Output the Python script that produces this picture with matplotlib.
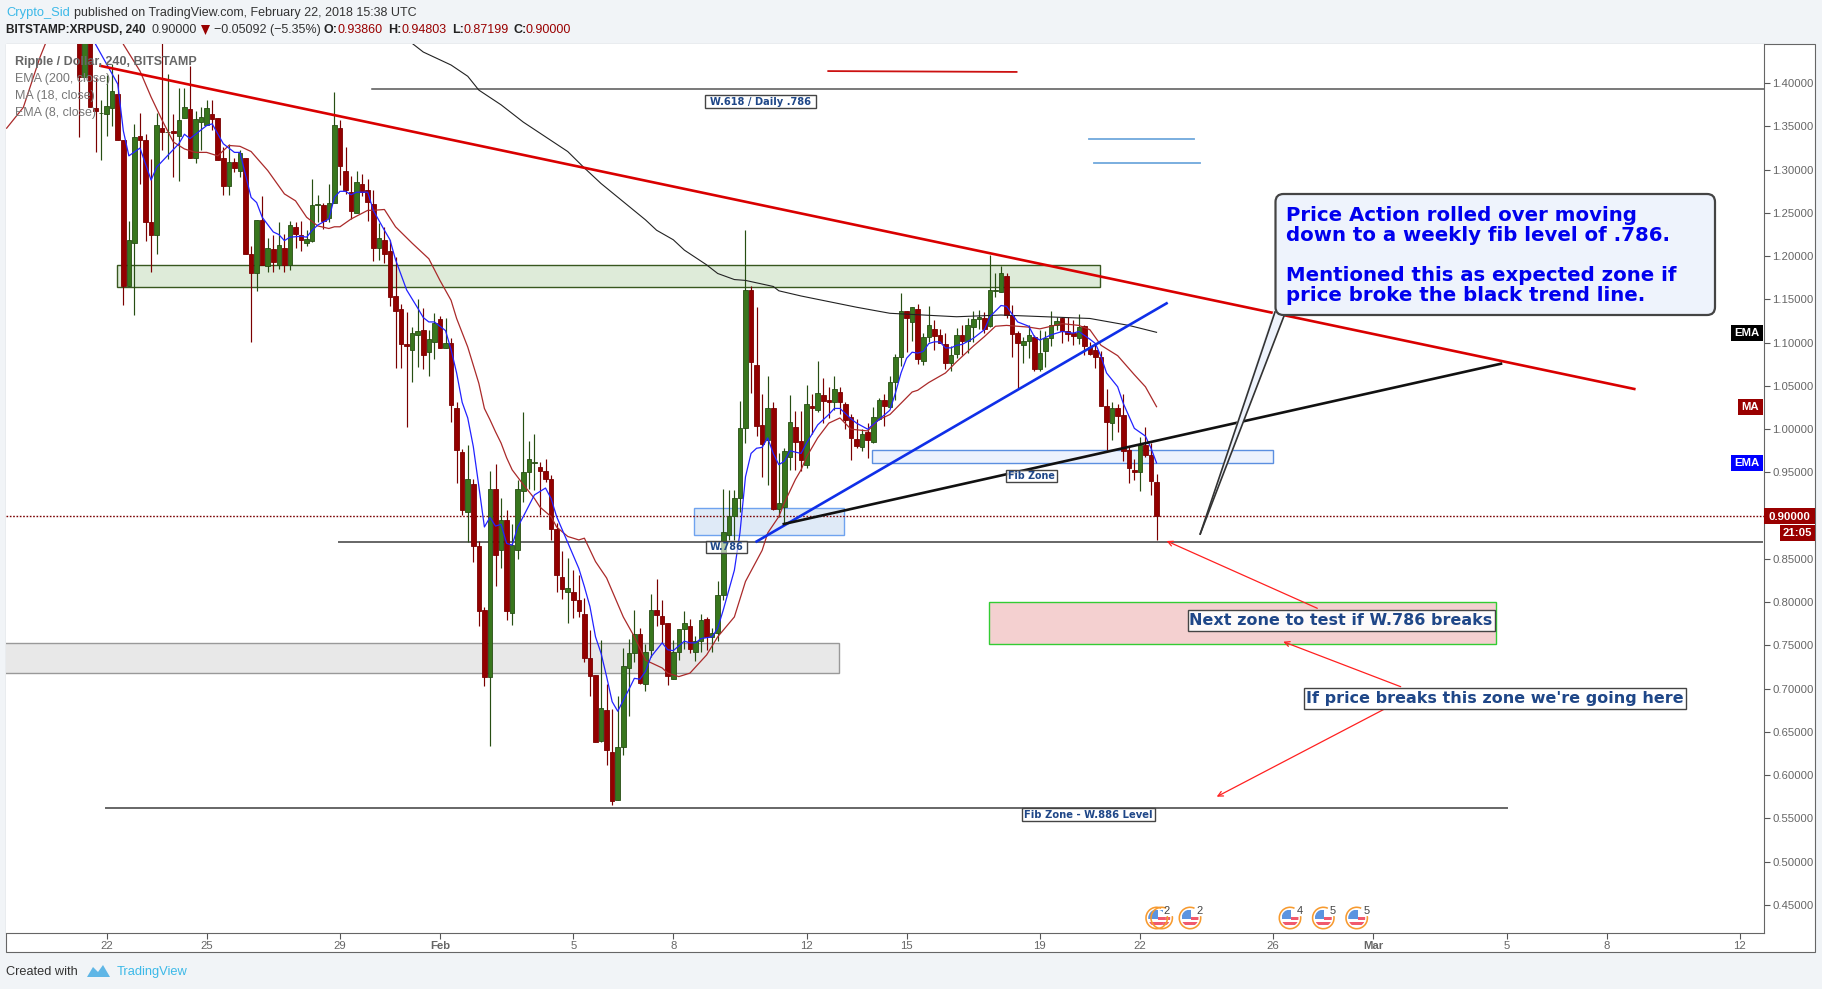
import matplotlib
matplotlib.use("Agg")
import matplotlib.pyplot as plt
from matplotlib.patches import Rectangle, FancyBboxPatch, Polygon, Circle, Wedge
from matplotlib.transforms import IdentityTransform

W = 1822
H = 989

# 4h candles, index 0 is Jan 21 00:00-ish, index 194 is Feb 22 12:00
opens = [1.52,1.407,1.50,1.371,1.365,1.364,1.371,1.388,1.334,1.166,
 1.215,1.339,1.334,1.239,1.225,1.348,1.343,1.345,1.339,1.360,
 1.370,1.313,1.355,1.352,1.364,1.360,1.314,1.281,1.309,1.298,
 1.314,1.202,1.180,1.242,1.189,1.208,1.190,1.210,1.190,1.234,
 1.224,1.215,1.217,1.259,1.259,1.244,1.262,1.348,1.299,1.274,
 1.250,1.284,1.276,1.260,1.210,1.219,1.206,1.154,1.139,1.099,
 1.091,1.109,1.115,1.089,1.101,1.127,1.094,1.100,1.025,.974,
 .904,.937,.865,.791,.713,.931,.860,.895,.787,.860,
 .928,.950,.961,.956,.952,.943,.885,.829,.812,.812,
 .803,.786,.736,.716,.640,.675,.627,.571,.633,.724,
 .741,.763,.706,.745,.791,.784,.776,.711,.742,.769,
 .772,.743,.755,.781,.760,.764,.808,.878,.900,.921,
 1.001,1.161,1.074,1.005,.988,1.024,.908,.910,.968,1.003,
 .986,.959,1.027,1.022,1.039,1.034,1.032,1.043,1.029,1.014,
 .989,.980,.997,.985,1.012,1.034,1.026,1.055,1.083,1.137,
 1.124,1.139,1.079,1.107,1.116,1.109,1.099,1.076,1.087,1.109,
 1.102,1.118,1.127,1.129,1.119,1.160,1.159,1.177,1.132,1.111,
 1.097,1.102,1.107,1.070,1.090,1.106,1.120,1.129,1.114,1.111,
 1.106,1.119,1.095,1.091,1.084,1.027,1.007,1.024,1.016,.976,
 .953,.951,.982,.970,.9386]
highs = [1.56,1.52,1.53,1.407,1.380,1.409,1.422,1.411,1.334,1.241,
 1.353,1.366,1.341,1.312,1.366,1.447,1.411,1.364,1.394,1.394,
 1.420,1.368,1.372,1.381,1.381,1.360,1.326,1.330,1.314,1.323,
 1.314,1.212,1.242,1.270,1.221,1.225,1.240,1.226,1.241,1.239,
 1.241,1.230,1.289,1.271,1.261,1.284,1.390,1.358,1.326,1.293,
 1.299,1.295,1.289,1.276,1.238,1.234,1.219,1.199,1.145,1.136,
 1.118,1.151,1.140,1.115,1.134,1.131,1.129,1.105,1.032,.977,
 .982,.942,.871,.794,.952,.960,.921,.907,.890,.941,
 1.020,.986,.994,.962,.966,.947,.891,.859,.851,.837,
 .832,.805,.768,.716,.756,.706,.676,.691,.747,.758,
 .791,.770,.752,.810,.827,.802,.776,.756,.769,.790,
 .781,.761,.786,.783,.770,.825,.931,.930,.930,1.033,
 1.230,1.166,1.141,1.041,1.062,1.032,.972,.978,1.040,1.021,
 1.021,1.051,1.041,1.079,1.059,1.049,1.062,1.049,1.031,1.017,
 1.012,1.000,1.007,1.026,1.036,1.041,1.061,1.087,1.157,1.137,
 1.141,1.145,1.111,1.142,1.126,1.116,1.111,1.096,1.117,1.120,
 1.128,1.137,1.138,1.136,1.201,1.180,1.189,1.181,1.144,1.114,
 1.107,1.120,1.109,1.115,1.113,1.137,1.130,1.130,1.130,1.126,
 1.133,1.120,1.101,1.099,1.090,1.046,1.031,1.029,1.041,.979,
 .966,.991,1.002,.984,.94803]
lows = [1.338,1.403,1.372,1.320,1.311,1.339,1.351,1.334,1.144,1.166,
 1.132,1.283,1.217,1.182,1.202,1.323,1.312,1.292,1.287,1.360,
 1.313,1.308,1.323,1.352,1.346,1.311,1.271,1.271,1.297,1.292,
 1.202,1.101,1.160,1.190,1.182,1.182,1.185,1.182,1.184,1.209,
 1.206,1.212,1.216,1.239,1.231,1.239,1.262,1.282,1.272,1.243,
 1.250,1.270,1.241,1.194,1.196,1.192,1.142,1.071,1.071,1.002,
 1.055,1.072,1.070,1.062,1.081,1.094,1.094,1.008,.938,.901,
 .870,.846,.772,.703,.634,.819,.840,.780,.774,.850,
 .916,.931,.930,.901,.939,.872,.812,.804,.776,.782,
 .783,.731,.692,.638,.638,.612,.565,.571,.623,.668,
 .731,.705,.697,.737,.772,.753,.704,.711,.733,.746,
 .741,.732,.742,.745,.742,.755,.802,.872,.872,.904,
 .984,1.042,.992,.945,.935,.907,.899,.890,.953,.953,
 .952,.955,.994,1.020,1.007,1.013,1.022,1.017,1.000,.964,
 .978,.975,.967,.984,1.011,1.004,1.026,1.034,1.073,1.089,
 1.102,1.075,1.074,1.101,1.092,1.100,1.070,1.067,1.082,1.086,
 1.088,1.101,1.116,1.111,1.118,1.153,1.159,1.129,1.084,1.046,
 1.076,1.082,1.067,1.067,1.072,1.096,1.115,1.100,1.102,1.097,
 1.099,1.086,1.086,1.071,1.027,.976,.987,.997,.963,.938,
 .941,.929,.968,.924,.87199]
closes = [1.407,1.50,1.373,1.368,1.366,1.374,1.391,1.334,1.166,1.219,
 1.338,1.334,1.239,1.225,1.352,1.343,1.344,1.342,1.358,1.373,
 1.313,1.359,1.361,1.371,1.359,1.311,1.281,1.309,1.302,1.319,
 1.202,1.180,1.242,1.190,1.210,1.193,1.213,1.190,1.236,1.226,
 1.219,1.220,1.259,1.260,1.241,1.262,1.352,1.304,1.276,1.252,
 1.286,1.274,1.263,1.210,1.221,1.203,1.153,1.137,1.098,1.096,
 1.111,1.114,1.086,1.104,1.123,1.094,1.100,1.028,.976,.907,
 .943,.865,.790,.713,.931,.855,.895,.790,.866,.931,
 .951,.965,.962,.952,.943,.885,.831,.815,.816,.803,
 .790,.736,.715,.638,.678,.629,.570,.633,.726,.741,
 .763,.707,.743,.791,.785,.775,.715,.742,.769,.776,
 .746,.755,.779,.760,.764,.808,.881,.900,.921,1.001,
 1.161,1.078,1.004,.983,1.024,.908,.915,.975,1.008,.985,
 .964,1.029,1.025,1.042,1.033,1.032,1.046,1.031,1.011,.990,
 .981,.995,.988,1.014,1.034,1.027,1.055,1.083,1.137,1.129,
 1.141,1.081,1.107,1.120,1.108,1.100,1.076,1.086,1.109,1.102,
 1.120,1.127,1.130,1.116,1.161,1.161,1.181,1.132,1.110,1.100,
 1.102,1.109,1.070,1.088,1.106,1.120,1.125,1.114,1.110,1.108,
 1.118,1.096,1.087,1.084,1.027,1.008,1.025,1.015,.975,.955,
 .951,.982,.970,.940,.9000]

# moving averages at the bars where they bend
ema8_bars = [2,3,7,8,9,11,13,14,18,19,20,23,24,26,28,29,31,32,33,35,36,37,38,40,41,42,43,45,46,47,48,49,50,52,
 53,55,56,57,59,61,62,63,64,66,67,68,69,70,71,72,73,74,75,76,77,78,79,80,82,84,85,86,87,90,91,92,93,94,95,96,97,
 99,100,101,102,103,105,106,107,109,110,111,112,114,115,116,118,119,120,121,122,123,124,125,126,127,128,130,131,
 133,134,135,136,137,139,140,142,144,146,147,148,149,150,151,152,153,154,155,156,157,158,159,161,163,164,166,167,
 169,171,172,173,175,177,179,180,182,183,184,185,187,188,190,192,193,194]
ema8_vals = [1.48,1.445,1.399,1.345,1.316,1.325,1.288,1.303,1.330,1.341,1.336,1.351,1.353,1.330,1.320,1.320,1.268,1.262,1.245,1.228,1.225,1.218,1.222,1.223,1.222,1.230,1.236,1.243,1.268,1.275,1.275,1.271,1.274,1.274,
 1.253,1.230,1.219,1.196,1.161,1.140,1.129,1.124,1.124,1.114,1.092,1.065,1.031,1.013,.980,.934,.887,.898,.888,.890,.868,.866,.887,.899,.924,.932,.920,.899,.884,.839,.818,.795,.760,.741,.714,.685,.674,
 .699,.712,.711,.720,.737,.753,.745,.744,.755,.753,.753,.758,.760,.770,.791,.837,.880,.945,.972,.978,.979,.990,.972,.959,.963,.975,.972,.984,
 1.005,1.011,1.017,1.024,1.024,1.012,1.007,1.000,1.011,1.022,1.042,1.065,1.082,1.089,1.088,1.090,1.099,1.101,1.101,1.094,1.094,1.097,1.098,1.105,1.115,1.130,1.143,1.142,
 1.124,1.119,1.107,1.103,1.109,1.113,1.111,1.113,1.104,1.099,1.084,1.065,1.049,1.030,1.001,.992,.978,.961]

ma18_bars = [-13,-10,-7,-6,-4,6,8,11,13,15,17,19,21,23,25,27,29,31,34,37,39,41,43,45,46,47,49,52,
 53,55,57,60,63,65,67,68,70,72,73,74,75,76,77,78,80,82,83,85,86,88,90,91,93,95,98,100,102,105,106,108,110,113,115,118,120,123,
 124,126,127,129,130,131,133,135,137,139,142,144,146,148,150,151,153,156,158,161,163,165,167,169,171,173,175,177,180,182,184,187,190,192,194]
ma18_vals = [1.348,1.372,1.430,1.446,1.55,1.55,1.445,1.414,1.384,1.357,1.332,1.324,1.320,1.320,1.316,1.328,1.327,1.321,1.299,1.272,1.264,1.245,1.235,1.232,1.234,1.234,1.243,1.253,
 1.253,1.254,1.234,1.215,1.197,1.172,1.149,1.128,1.095,1.053,1.024,1.011,.997,.984,.967,.953,.936,.920,.910,.899,.887,.876,.872,.874,.847,.828,.783,.760,.733,.724,.718,.714,.718,.739,.760,.783,.824,.860,
 .880,.899,.915,.942,.953,.968,.990,1.007,1.013,1.000,.998,1.011,1.017,1.030,1.043,1.045,1.054,1.065,1.078,1.096,1.107,1.119,1.120,1.119,1.118,1.116,1.119,1.122,1.120,1.115,1.097,1.085,1.063,1.049,1.026]

ema200_bars = [58,60,62,67,70,72,76,80,84,88,91,94,98,102,104,107,109,113,115,118,120,125,126,130,140,146,158,166,182,189,194]
ema200_vals = [1.46,1.446,1.436,1.421,1.408,1.392,1.375,1.355,1.338,1.321,1.302,1.284,1.263,1.242,1.230,1.219,1.207,1.190,1.180,1.173,1.172,1.165,1.160,1.154,1.141,1.134,1.130,1.132,1.128,1.120,1.112]

price_ticks = [1.40,1.35,1.30,1.25,1.20,1.15,1.10,1.05,1.00,0.95,0.85,0.80,0.75,0.70,0.65,0.60,0.55,0.50,0.45]
day_offsets = [0,3,7,10,14,17,21,24,28,31,35,38,42,45,49]
day_labels = ["22","25","29","Feb","5","8","12","15","19","22","26","Mar","5","8","12"]
last_price = 0.90

bg = "#f1f4f7"
up_body = "#38761d"
up_edge = "#274e13"
dn_body = "#930000"
dn_edge = "#7a0000"
label_blue = "#1f4788"
sans = "Liberation Sans"

fig = plt.figure(figsize=(W / 100, H / 100), dpi=100, facecolor=bg)
px = IdentityTransform()


def py(y):
    return H - y


def add_px(patch):
    patch.set_transform(px)
    fig.add_artist(patch)
    return patch


def ftext(x, y, s, **kw):
    kw.setdefault("family", sans)
    kw.setdefault("va", "center")
    return fig.text(x / W, 1 - y / H, s, **kw)


def boxed(x0, y0, x1, y1, s, size, alpha=1.0):
    add_px(Rectangle((x0, py(y1)), x1 - x0, y1 - y0, fc=(1, 1, 1, alpha), ec="#444444", lw=1.0, zorder=6))
    ftext((x0 + x1) / 2, (y0 + y1) / 2 + 0.5, s, family="DejaVu Sans", fontweight="bold", fontsize=size,
          color=label_blue, ha="center", zorder=7)


# white chart panel including the price and time scales
add_px(Rectangle((6, py(952)), 1809, 908, fc="white", ec="#666666", lw=0.8, zorder=-1))

ax = fig.add_axes([6 / W, (H - 933) / H, 1758 / W, 889 / H])
ax.set_xlim(-13.12, 303.35)
ax.set_ylim(0.4176, 1.4453)
ax.yaxis.tick_right()
ax.set_yticks(price_ticks)
ax.set_yticklabels(["%.5f" % p for p in price_ticks], family=sans, fontsize=8.2, color="#666666")
ax.set_xticks([5 + 6 * d for d in day_offsets])
ax.set_xticklabels(day_labels, family=sans, fontsize=8.2, color="#666666")
for t in ax.get_xticklabels():
    if t.get_text() in ("Feb", "Mar"):
        t.set_fontweight("bold")
ax.tick_params(axis="both", length=4, width=0.8, color="#555555", pad=2)
for s in ax.spines.values():
    s.set_color("#666666")
    s.set_linewidth(0.8)
ax.spines["left"].set_visible(False)
ax.spines["top"].set_visible(False)

# zones
ax.add_patch(Rectangle((6.9, 1.164), 177, 0.0255, fc="#deebd9", ec="#38571f", lw=1.0, zorder=1))
ax.add_patch(Rectangle((-14, 0.7178), 150.9, 0.0347, fc="#e8e8e8", ec="#999999", lw=1.0, zorder=1))
ax.add_patch(Rectangle((110.8, 0.8773), 27, 0.0312, fc="#dfeaf7", ec="#6fa3ef", lw=1.0, zorder=1))
ax.add_patch(Rectangle((142.8, 0.9606), 72.1, 0.0154, fc="#ecf2fd", ec="#5b8fe0", lw=1.0, zorder=1))
ax.add_patch(Rectangle((163.9, 0.7513), 91.2, 0.0493, fc="#f4d0d0", ec="#33cc33", lw=1.0, zorder=1))

# levels
ax.axhline(last_price, color="#7a0000", lw=1.0, ls=(0, (1.2, 1.2)), zorder=2)
ax.plot([52.8, 303.35], [1.393, 1.393], color="#555555", lw=1.1, zorder=2)
ax.plot([46.8, 303], [0.8695, 0.8695], color="#666666", lw=1.4, zorder=2)
ax.plot([4.9, 257], [0.562, 0.562], color="#666666", lw=1.4, zorder=2)
ax.plot([134.9, 168.8], [1.414, 1.413], color="#cc1111", lw=1.3, zorder=2)
ax.plot([181.8, 200.8], [1.335, 1.335], color="#6fa8dc", lw=1.3, zorder=2)
ax.plot([182.8, 201.8], [1.308, 1.308], color="#6fa8dc", lw=1.3, zorder=2)

# candles
for i in range(len(opens)):
    up = closes[i] >= opens[i]
    ax.vlines(i, lows[i], highs[i], color=up_edge if up else dn_edge, lw=0.85, zorder=3)
    ax.bar(i, abs(closes[i] - opens[i]), bottom=min(opens[i], closes[i]), width=0.82,
           color=up_body if up else dn_body, edgecolor=up_edge if up else dn_edge, linewidth=0.6, zorder=3)

ax.plot(ema200_bars, ema200_vals, color="#222222", lw=0.8, zorder=4)
ax.plot(ma18_bars, ma18_vals, color="#aa2a2a", lw=0.9, zorder=4)
ax.plot(ema8_bars, ema8_vals, color="#2222ff", lw=0.9, zorder=4)

# trend lines
ax.plot([3.9, 280], [1.42, 1.0465], color="#d90000", lw=1.9, zorder=5)
ax.plot([122, 195.8], [0.8702, 1.1455], color="#0f2fe8", lw=1.9, zorder=5)
ax.plot([126.9, 256], [0.8904, 1.0757], color="#111111", lw=1.9, zorder=5)

# header
ftext(6, 13, "Crypto_Sid", color="#3cb9e8", fontsize=9.3)
ftext(74, 13, "published on TradingView.com, February 22, 2018 15:38 UTC", color="#333333", fontsize=9)
ftext(6, 30, "BITSTAMP:XRPUSD, 240", color="#222222", fontsize=8.6, fontweight="bold")
ftext(151, 30, "0.90000", color="#333333", fontsize=9)
add_px(Polygon([(201, py(25)), (210, py(25)), (205.5, py(35))], fc="#990000", ec="none"))
ftext(214, 30, "\u22120.05092 (\u22125.35%)", color="#333333", fontsize=9)
for xa, name, xb, val in [(324, "O:", 338, "0.93860"), (388.5, "H:", 402, "0.94803"),
                          (452.5, "L:", 463, "0.87199"), (513, "C:", 525, "0.90000")]:
    ftext(xa, 30, name, color="#222222", fontsize=9, fontweight="bold")
    ftext(xb, 30, val, color="#990000", fontsize=9)

# legend
ftext(15, 62, "Ripple / Dollar, 240, BITSTAMP", color="#666666", fontsize=9, fontweight="bold", zorder=8)
ftext(15, 79, "EMA (200, close)", color="#777777", fontsize=9, zorder=8)
ftext(15, 96, "MA (18, close)", color="#777777", fontsize=9, zorder=8)
ftext(15, 113, "EMA (8, close)", color="#777777", fontsize=9, zorder=8)

# callout
add_px(Polygon([(1200.2, py(534)), (1275, py(306)), (1284, py(316))], fc="#eef3fc", ec="none", zorder=6))
fig.add_artist(plt.Line2D([1200.2, 1275], [py(534), py(312)], color="#333333", lw=1.2, transform=px, zorder=6))
fig.add_artist(plt.Line2D([1200.2, 1284], [py(534), py(316)], color="#333333", lw=1.2, transform=px, zorder=6))
add_px(FancyBboxPatch((1283.5, py(307)), 423.5, 105, boxstyle="round,pad=8,rounding_size=8",
                      fc="#eef3fc", ec="#444444", lw=1.6, zorder=6))
ftext(1286, 206, "Price Action rolled over moving\ndown to a weekly fib level of .786.\n\nMentioned this as expected zone if\nprice broke the black trend line.",
      family="DejaVu Sans", fontweight="bold", fontsize=14.2, color="#0000ee", va="top", linespacing=1.06, zorder=7)

# labels
boxed(705, 95, 816, 108, "W.618 / Daily .786", 7.1)
boxed(706, 541, 746.5, 553, "W.786", 6.9, alpha=0.6)
boxed(1005.5, 469.5, 1056.5, 482, "Fib Zone", 6.9, alpha=0.8)
boxed(1021.5, 807.5, 1154.5, 820.5, "Fib Zone - W.886 Level", 7.2)
boxed(1187.5, 609.5, 1494.5, 630.5, "Next zone to test if W.786 breaks", 11.5, alpha=0.9)
boxed(1304, 687.5, 1686, 708.5, "If price breaks this zone we're going here", 11.5)

# arrows
for (x0, y0, x1, y1) in [(1317.3, 608.3, 1166.6, 541), (1400.7, 686.7, 1283.3, 641.7), (1384, 709.3, 1216.7, 796.7)]:
    ax.annotate("", xy=(x1, py(y1)), xytext=(x0, py(y0)), xycoords="figure pixels", textcoords="figure pixels",
                arrowprops=dict(arrowstyle="->", color="#ff2020", lw=0.9, shrinkA=0, shrinkB=0, mutation_scale=9),
                zorder=5)

# tags on the right
for x0, y0, x1, y1, c, s in [(1731, 325, 1763, 341, "#000000", "EMA"), (1738, 399, 1763, 415, "#990000", "MA"),
                             (1731, 455, 1763, 471, "#0000ff", "EMA"), (1764, 508, 1815, 524, "#990000", "0.90000"),
                             (1780, 525, 1815, 541, "#990000", "21:05")]:
    add_px(Rectangle((x0, py(y1)), x1 - x0, y1 - y0, fc=c, ec="none", zorder=6))
    ftext((x0 + x1) / 2, (y0 + y1) / 2 + 0.5, s, color="white", fontsize=8.2, fontweight="bold", ha="center", zorder=7)

# event flags
for cx, num in [(1161.7, None), (1156.7, "2"), (1190, "2"), (1290, "4"), (1323.3, "5"), (1356.7, "5")]:
    cy = py(918)
    disc = add_px(Circle((cx, cy), 8.5, fc="white", ec="none", zorder=6))
    for x0, y0, w, h, c in [(cx - 8.5, cy - 1, 9.5, 9, "#5c94e0"), (cx + 1, cy - 2, 9, 3, "#f05a6e"), (cx - 9, cy - 7, 18, 3.5, "#f05a6e")]:
        r = add_px(Rectangle((x0, y0), w, h, fc=c, ec="none", zorder=6))
        r.set_clip_path(disc)
    add_px(Wedge((cx, cy), 11.5, 65, 370, width=1.6, fc="#f79a2e", ec="none", zorder=7))
    if num:
        ftext(cx + 9.5 if cx != 1156.7 else 1166.7, 911, num, color="#444444", fontsize=8, ha="center", zorder=8)

# footer
ftext(6, 972, "Created with", color="#333333", fontsize=9.2)
add_px(Polygon([(87, py(977)), (93, py(967)), (98, py(972)), (103, py(965)), (110, py(977))], fc="#5fb6e6", ec="none"))
ftext(117, 972, "TradingView", color="#3cb9e8", fontsize=9.3)

fig.savefig("out.png", dpi=100, facecolor=bg)
